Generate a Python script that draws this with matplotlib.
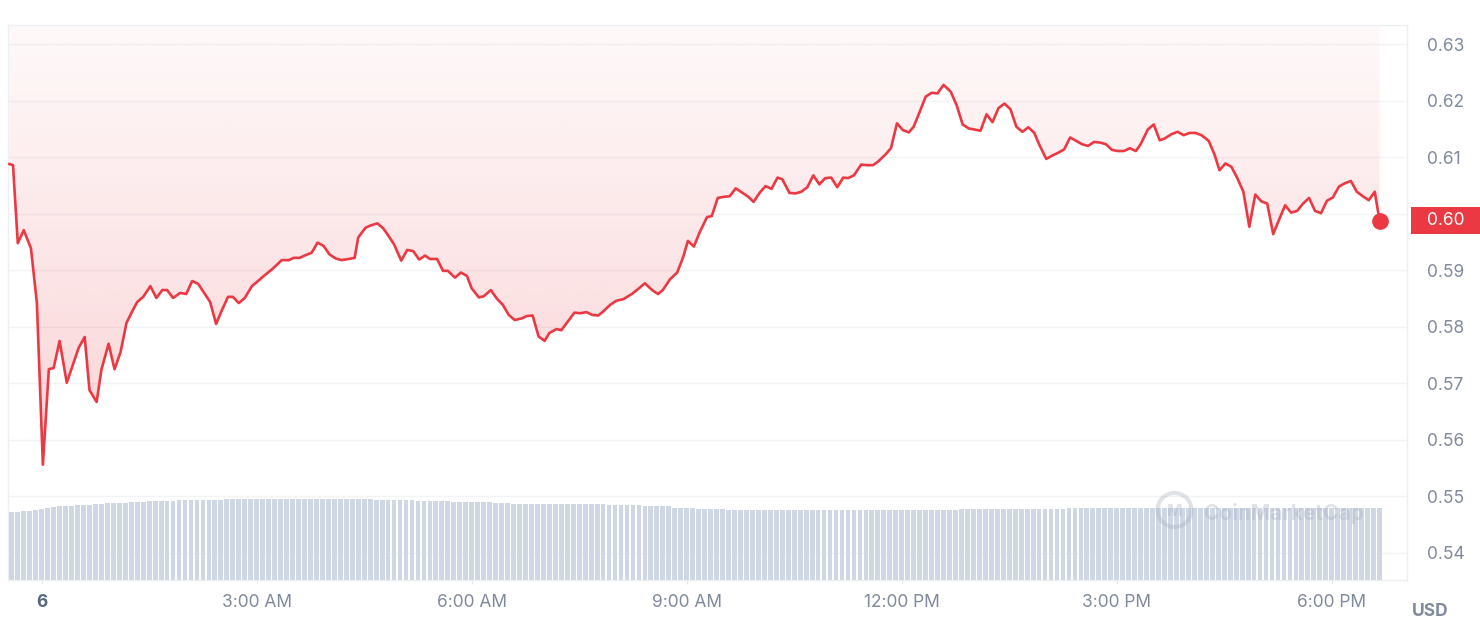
import numpy as np
import matplotlib
matplotlib.use("Agg")
import matplotlib.pyplot as plt
from matplotlib.patches import Rectangle, Circle
from matplotlib.transforms import blended_transform_factory, IdentityTransform

plt.rcParams['font.family'] = ['Inter', 'DejaVu Sans']

# ---------------- data ----------------
# minutes after midnight (day 6)
times = [-27, -24, -20, -15, -9, -4, 1, 6, 10, 15, 21, 31, 36, 40, 46, 50, 56, 61, 66, 71,
         75, 80, 85, 91, 96, 101, 105, 110, 116, 121, 126, 131, 141, 146, 151, 156, 160, 165, 170, 176,
         180, 186, 193, 201, 207, 211, 216, 220, 226, 231, 236, 241, 246, 251, 257, 262, 265, 271, 275, 281,
         286, 290, 295, 301, 306, 311, 316, 321, 325, 331, 336, 340, 346, 351, 356, 360, 366, 370, 376, 381,
         386, 391, 396, 402, 406, 411, 416, 421, 425, 431, 435, 441, 446, 451, 456, 461, 466, 470, 476, 481,
         487, 494, 500, 505, 511, 516, 520, 526, 532, 537, 541, 546, 551, 557, 561, 566, 571, 576, 581, 586,
         591, 596, 601, 606, 611, 616, 620, 626, 631, 636, 641, 646, 651, 656, 661, 666, 671, 675, 680, 686,
         691, 696, 700, 706, 711, 716, 721, 726, 730, 735, 740, 745, 750, 755, 761, 766, 771, 776, 781, 786,
         791, 796, 801, 806, 811, 816, 821, 826, 831, 835, 841, 846, 851, 856, 861, 866, 871, 876, 881, 886,
         891, 896, 901, 906, 911, 916, 920, 926, 931, 936, 940, 946, 951, 956, 961, 966, 971, 977, 982, 986,
         991, 996, 1001, 1006, 1011, 1016, 1021, 1026, 1031, 1036, 1041, 1046, 1051, 1056, 1061, 1066, 1071,
         1076, 1081, 1086, 1091, 1096, 1101, 1106, 1111, 1116, 1120]

prices = [0.6088, 0.6086, 0.5948, 0.5971, 0.5939, 0.5842, 0.5556, 0.5725, 0.5727, 0.5775,
          0.5701, 0.5763, 0.5782, 0.5688, 0.5667, 0.5724, 0.5770, 0.5725, 0.5755, 0.5807,
          0.5824, 0.5844, 0.5853, 0.5872, 0.5851, 0.5865, 0.5865, 0.5851, 0.5860, 0.5858,
          0.5881, 0.5876, 0.5844, 0.5805, 0.5830, 0.5853, 0.5853, 0.5842, 0.5851, 0.5872,
          0.5879, 0.5890, 0.5902, 0.5918, 0.5918, 0.5922, 0.5922, 0.5926, 0.5931, 0.5949,
          0.5943, 0.5928, 0.5921, 0.5918, 0.5920, 0.5922, 0.5958, 0.5975, 0.5979, 0.5983,
          0.5974, 0.5962, 0.5946, 0.5917, 0.5936, 0.5934, 0.5919, 0.5926, 0.5920, 0.5920,
          0.5899, 0.5899, 0.5887, 0.5896, 0.5890, 0.5868, 0.5852, 0.5854, 0.5865, 0.5850,
          0.5839, 0.5821, 0.5812, 0.5815, 0.5819, 0.5820, 0.5783, 0.5775, 0.5789, 0.5796,
          0.5794, 0.5811, 0.5825, 0.5824, 0.5826, 0.5821, 0.5820, 0.5827, 0.5839, 0.5846,
          0.5849, 0.5858, 0.5868, 0.5877, 0.5865, 0.5858, 0.5865, 0.5884, 0.5896, 0.5923,
          0.5952, 0.5942, 0.5968, 0.5994, 0.5996, 0.6028, 0.6030, 0.6031, 0.6045, 0.6038,
          0.6031, 0.6021, 0.6037, 0.6049, 0.6044, 0.6064, 0.6061, 0.6037, 0.6036, 0.6039,
          0.6047, 0.6068, 0.6052, 0.6063, 0.6064, 0.6047, 0.6064, 0.6063, 0.6068, 0.6087,
          0.6086, 0.6086, 0.6092, 0.6104, 0.6116, 0.6160, 0.6148, 0.6144, 0.6154, 0.6180,
          0.6207, 0.6214, 0.6213, 0.6228, 0.6216, 0.6192, 0.6158, 0.6151, 0.6149, 0.6147,
          0.6176, 0.6162, 0.6187, 0.6195, 0.6185, 0.6154, 0.6145, 0.6153, 0.6143, 0.6123,
          0.6097, 0.6103, 0.6108, 0.6114, 0.6135, 0.6129, 0.6123, 0.6120, 0.6127, 0.6126,
          0.6123, 0.6113, 0.6111, 0.6111, 0.6116, 0.6111, 0.6123, 0.6149, 0.6158, 0.6130,
          0.6133, 0.6141, 0.6145, 0.6139, 0.6143, 0.6143, 0.6139, 0.6129, 0.6104, 0.6077,
          0.6089, 0.6083, 0.6063, 0.6039, 0.5977, 0.6034, 0.6022, 0.6018, 0.5964, 0.5990,
          0.6015, 0.6002, 0.6005, 0.6018, 0.6028, 0.6005, 0.6001, 0.6023, 0.6029, 0.6048,
          0.6054, 0.6058, 0.6039, 0.6031, 0.6024, 0.6039, 0.5988]

# volume bars (5-minute), arbitrary units
volume = ([68, 68, 68.7, 69, 70, 71, 72, 73.3, 74, 74, 74] + [75] * 3 + [76] * 2 + [76.7] * 4 +
          [77.7] * 3 + [78.7] * 5 + [79.7] * 8 + [81] * 25 + [80] * 7 + [78.8] * 6 + [77.8] * 7 +
          [76.8] * 3 + [76.1] * 16 + [74.7] * 6 + [73.7] * 5 + [72.4] * 4 + [71] * 5 + [69.7] * 39 +
          [71] * 18 + [71.7] * 53)
volume_start = -25  # minutes, first bar
volume_step = 5

x_ticks = [0, 180, 360, 540, 720, 900, 1080]
x_labels = ["6", "3:00 AM", "6:00 AM", "9:00 AM", "12:00 PM", "3:00 PM", "6:00 PM"]
y_ticks = [0.54, 0.55, 0.56, 0.57, 0.58, 0.59, 0.60, 0.61, 0.62, 0.63]

# ---------------- style ----------------
RED = '#EA3943'
GREY = '#808A9D'
GRID = '#F1F3F6'
FRAME = '#ECEFF3'
BAR = '#CFD6E4'

W, H = 1480, 640
fig = plt.figure(figsize=(W / 100, H / 100), dpi=100)
fig.patch.set_facecolor('white')
ax = fig.add_axes([8 / W, 60 / H, 1399 / W, 555 / H])

t = np.array(times, dtype=float)
p = np.array(prices)
ytop = 0.6334
ybot = 0.5352
xmin, xmax = -28.2, 1143

# gradient fill above the line
poly = ax.fill_between(t, p, ytop, color='none', lw=0)
n = 256
grad = np.zeros((n, 1, 4))
r, g, b = matplotlib.colors.to_rgb(RED)
grad[:, 0, 0] = r
grad[:, 0, 1] = g
grad[:, 0, 2] = b
grad[:, 0, 3] = np.linspace(0.03, 0.22, n)
im = ax.imshow(grad, extent=[t[0], t[-1], 0.555, ytop], aspect='auto', origin='upper',
               zorder=1, interpolation='bilinear')
im.set_clip_path(poly.get_paths()[0], transform=ax.transData)

ax.plot(t, p, color=RED, lw=1.9, zorder=3, solid_joinstyle='round')
ax.plot(t[-1], p[-1], 'o', ms=11, color=RED, zorder=4)

ax.set_xlim(xmin, xmax)
ax.set_ylim(ybot, ytop)
ax.grid(axis='y', color=GRID, lw=1)
ax.set_axisbelow(True)

ax.set_xticks(x_ticks)
ax.set_xticklabels(x_labels)
ax.tick_params(axis='x', length=3, color='#E3E7EC', pad=7, labelsize=12.5, labelcolor=GREY)
lab0 = ax.get_xticklabels()[0]
lab0.set_fontweight('bold')
lab0.set_color('#58667E')

for s in ax.spines.values():
    s.set_color(FRAME)
    s.set_linewidth(1)

# volume bars on a twin axis
vax = ax.twinx()
vax.set_zorder(ax.get_zorder() + 1)
vax.patch.set_visible(False)
vt = volume_start + volume_step * np.arange(len(volume))
vax.bar(vt, volume, width=4.0, color=BAR, lw=0, antialiased=False)
vax.set_ylim(0, max(volume) / 0.146)
vax.set_xlim(xmin, xmax)
vax.axis('off')

# price ticks on the right (after twinx, which moves them)
last_label = f"{p[-1]:.2f}"
ax.set_yticks(y_ticks)
# the tick label under the current-price tag is covered by the tag itself
ax.set_yticklabels(["" if f"{v:.2f}" == last_label else f"{v:.2f}" for v in y_ticks])
ax.yaxis.set_ticks_position('right')
ax.tick_params(axis='y', which='both', left=False, right=False, labelleft=False,
               labelright=True, length=0, pad=14.5, labelsize=12.5, labelcolor=GREY)

# watermark
wm_col = '#A6AFBF'
fig.text(1284 / W, 1 - 513 / H, 'CoinMarketCap', ha='center', va='center', fontsize=15,
         fontweight='bold', color=wm_col, alpha=0.35, zorder=5)
fig.add_artist(Circle((1174.5, H - 510), 17, transform=IdentityTransform(), fill=False,
                      lw=3, edgecolor=wm_col, alpha=0.35, zorder=5))
fig.text(1174.5 / W, 1 - 511 / H, 'M', ha='center', va='center', fontsize=12,
         fontweight='bold', color=wm_col, alpha=0.35, zorder=5)

# current price tag
trans = blended_transform_factory(fig.transFigure, ax.transData)
box_h = 0.00477
fig.add_artist(Rectangle((1411 / W, p[-1] - box_h / 2), 69 / W, box_h, transform=trans,
                         color=RED, lw=0, zorder=10))
fig.text(1427 / W, p[-1], last_label, transform=trans, ha='left', va='center',
         fontsize=12.5, color='white', zorder=11)

fig.text(1430 / W, 1 - 611 / H, 'USD', ha='center', va='center', fontsize=12.5,
         fontweight='bold', color=GREY)

fig.savefig('out.png', dpi=100, facecolor='white')
